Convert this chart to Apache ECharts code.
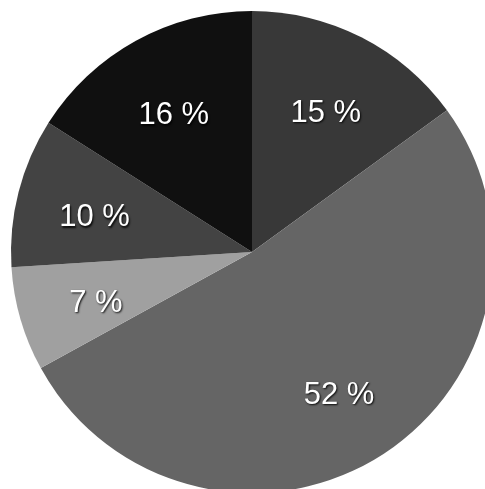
<!DOCTYPE html>
<html><head><meta charset="utf-8">
<script src="https://cdn.jsdelivr.net/npm/echarts@6/dist/echarts.min.js"></script>
<style>html,body{margin:0;padding:0;background:#fff}#c{width:485px;height:489px}</style>
</head><body><div id="c"></div>
<script>
const categories = ['A', 'B', 'C', 'D', 'E'];
const values = [15, 52, 7, 10, 16];
const labels = ['15 %', '52 %', '7 %', '10 %', '16 %'];
const colors = ['#383838', '#656565', '#a0a0a0', '#434343', '#101010'];

const chart = echarts.init(document.getElementById('c'), null, {renderer: 'canvas'});
const fillData = categories.map((c, i) => ({name: c, value: values[i], itemStyle: {color: colors[i]}}));
const labelData = categories.map((c, i) => ({name: c, value: values[i], label: {formatter: labels[i]}}));
chart.setOption({
  animation: false,
  backgroundColor: '#fff',
  series: [
    {
      type: 'pie', center: [252, 252], radius: [0, 241], startAngle: 90, clockwise: true,
      data: fillData, label: {show: false}, labelLine: {show: false}, silent: true,
      itemStyle: {borderWidth: 0}
    },
    {
      type: 'pie', center: [252, 252], radius: [78, 241], startAngle: 90, clockwise: true,
      data: labelData, silent: true,
      itemStyle: {color: 'rgba(0,0,0,0)', borderWidth: 0},
      label: {
        show: true, position: 'inside', color: '#fff',
        fontFamily: 'Liberation Sans, Arial, sans-serif', fontSize: 31,
        textShadowColor: 'rgba(0,0,0,0.9)', textShadowBlur: 2, textShadowOffsetX: 1, textShadowOffsetY: 1.5
      },
      labelLayout: {dy: 6},
      labelLine: {show: false}
    }
  ]
});
</script></body></html>
